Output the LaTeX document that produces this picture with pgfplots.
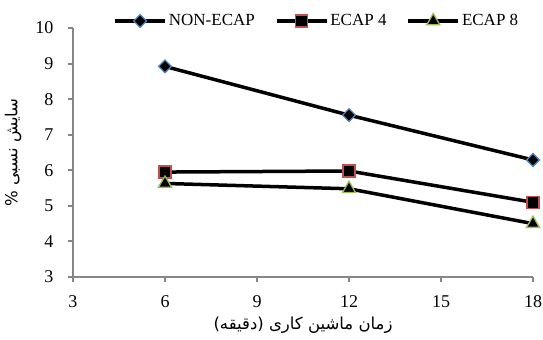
\documentclass[border=0pt]{standalone}
\usepackage{fontspec}
\setmainfont{Liberation Serif}
\newfontfamily\arabicfont[Script=Arabic]{DejaVu Sans}
\usepackage{pgfplots}
\pgfplotsset{compat=1.18}
\TeXXeTstate=1
\definecolor{blueB}{HTML}{4F81BD}
\definecolor{redB}{HTML}{C0504D}
\definecolor{greenB}{HTML}{9BBB59}
\definecolor{axisgray}{HTML}{868686}
\begin{document}
\begin{tikzpicture}
\begin{axis}[
  name=main,
  width=460bp, height=249bp, scale only axis,
  xmin=3, xmax=18, ymin=3, ymax=10,
  xtick={3,6,...,18}, ytick={3,4,...,10},
  axis x line*=bottom, axis y line*=left,
  axis line style={draw=axisgray, line width=2.5bp},
  tick style={draw=axisgray, line width=2bp},
  major tick length=5bp,
  tick align=outside,
  clip=false,
  font=\fontsize{16.5bp}{20bp}\selectfont,
  tick label style={font=\fontsize{18bp}{21bp}\selectfont},
  /pgf/number format/assume math mode=true,
  xticklabel style={yshift=-10bp},
  yticklabel style={xshift=-11bp},
  xlabel={\arabicfont\fontsize{16.5bp}{19bp}\selectfont\beginR زمان ماشین کاری (دقیقه)\endR},
  xlabel style={at={(axis description cs:0.5,-0.193)}, anchor=center},
  ylabel={\arabicfont\fontsize{16.5bp}{19bp}\selectfont\beginR سایش نسبی \%\endR},
  ylabel style={at={(axis description cs:-0.13,0.5)}, anchor=center},
  legend style={at={(axis description cs:0.53,1.028)}, anchor=center, draw=none, fill=none,
    font=\fontsize{17bp}{20bp}\selectfont,
    /tikz/every even column/.append style={column sep=18bp}},
  legend columns=3,
  legend image code/.code={\draw[mark repeat=2,mark phase=2,#1] plot coordinates {(0bp,0bp) (25bp,0bp) (50bp,0bp)};},
]
\addplot[draw=black, line width=3.5bp, mark=square*, mark size=4.5bp,
  mark options={draw=blueB, fill=black, line width=1.3bp, rotate=45, solid}]
  coordinates {(6,8.92) (12,7.55) (18,6.29)};
\addlegendentry{NON-ECAP}
\addplot[draw=black, line width=3.5bp, mark=square*, mark size=6bp,
  mark options={draw=redB, fill=black, line width=1.3bp, solid}]
  coordinates {(6,5.95) (12,5.98) (18,5.10)};
\addlegendentry{ECAP 4}
\addplot[draw=black, line width=3.5bp, mark=triangle*, mark size=7.5bp,
  mark options={draw=greenB, fill=black, line width=1.3bp, solid}]
  coordinates {(6,5.63) (12,5.48) (18,4.50)};
\addlegendentry{ECAP 8}
\end{axis}
\pgfresetboundingbox
\path (main.south west) ++(-73bp,-63bp) rectangle ++(543bp,340bp);
\end{tikzpicture}
\end{document}
